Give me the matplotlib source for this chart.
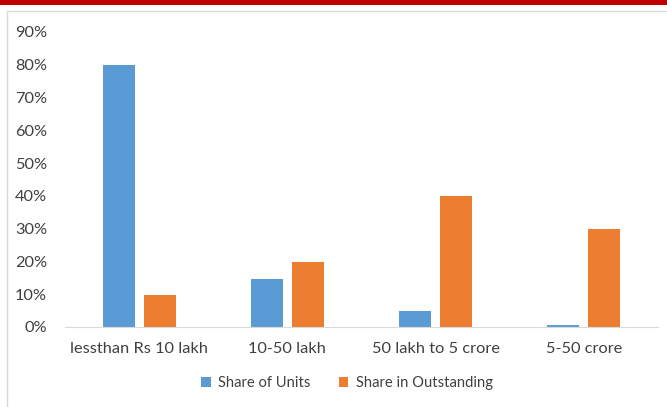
import numpy as np
import matplotlib.pyplot as plt
from matplotlib.patches import Rectangle
from matplotlib.ticker import PercentFormatter

categories = ['lessthan Rs 10 lakh', '10-50 lakh', '50 lakh to 5 crore', '5-50 crore']
share_units = [80.0, 14.5, 5.0, 0.5]
share_outstanding = [9.7, 19.7, 40.0, 30.0]
y_ticks = [0, 10, 20, 30, 40, 50, 60, 70, 80, 90]

plt.rcParams['font.family'] = ['Lato', 'DejaVu Sans']

fig = plt.figure(figsize=(6.67, 4.07), dpi=100)

# red strip on top and light frame round the chart
fig.patches.append(Rectangle((0, 1 - 5 / 407), 1, 5 / 407, transform=fig.transFigure,
                             facecolor='#C00000', edgecolor='none'))
fig.patches.append(Rectangle((7 / 667, -0.01), 1.0, 1 - 11 / 407 + 0.01, transform=fig.transFigure,
                             facecolor='none', edgecolor='#D9D9D9', linewidth=1))

ax = fig.add_axes([65 / 667, 1 - 327 / 407, (658 - 65) / 667, (327 - 32) / 407])

x = np.arange(len(categories))
w = 0.216
off = 0.139
ax.bar(x - off, share_units, w, color='#5B9BD5', label='Share of Units')
ax.bar(x + off, share_outstanding, w, color='#ED7D31', label='Share in Outstanding')

ax.set_xlim(-0.5, len(categories) - 0.5)
ax.set_ylim(0, 90)
ax.set_yticks(y_ticks)
ax.yaxis.set_major_formatter(PercentFormatter(decimals=0))
ax.set_xticks(x)
ax.set_xticklabels(categories)

for s in ['top', 'right', 'left']:
    ax.spines[s].set_visible(False)
ax.spines['bottom'].set_color('#D9D9D9')
ax.tick_params(axis='both', length=0, labelsize=11.8, colors='#404040')
ax.tick_params(axis='y', pad=13)
ax.tick_params(axis='x', pad=11)

fig.legend(loc='center', bbox_to_anchor=(347 / 667, 1 - 383 / 407), ncol=2, frameon=False,
           fontsize=10.6, handlelength=0.65, handleheight=0.65, columnspacing=1.9, handletextpad=0.5,
           labelcolor='#404040')

fig.savefig('out.png', dpi=100)
